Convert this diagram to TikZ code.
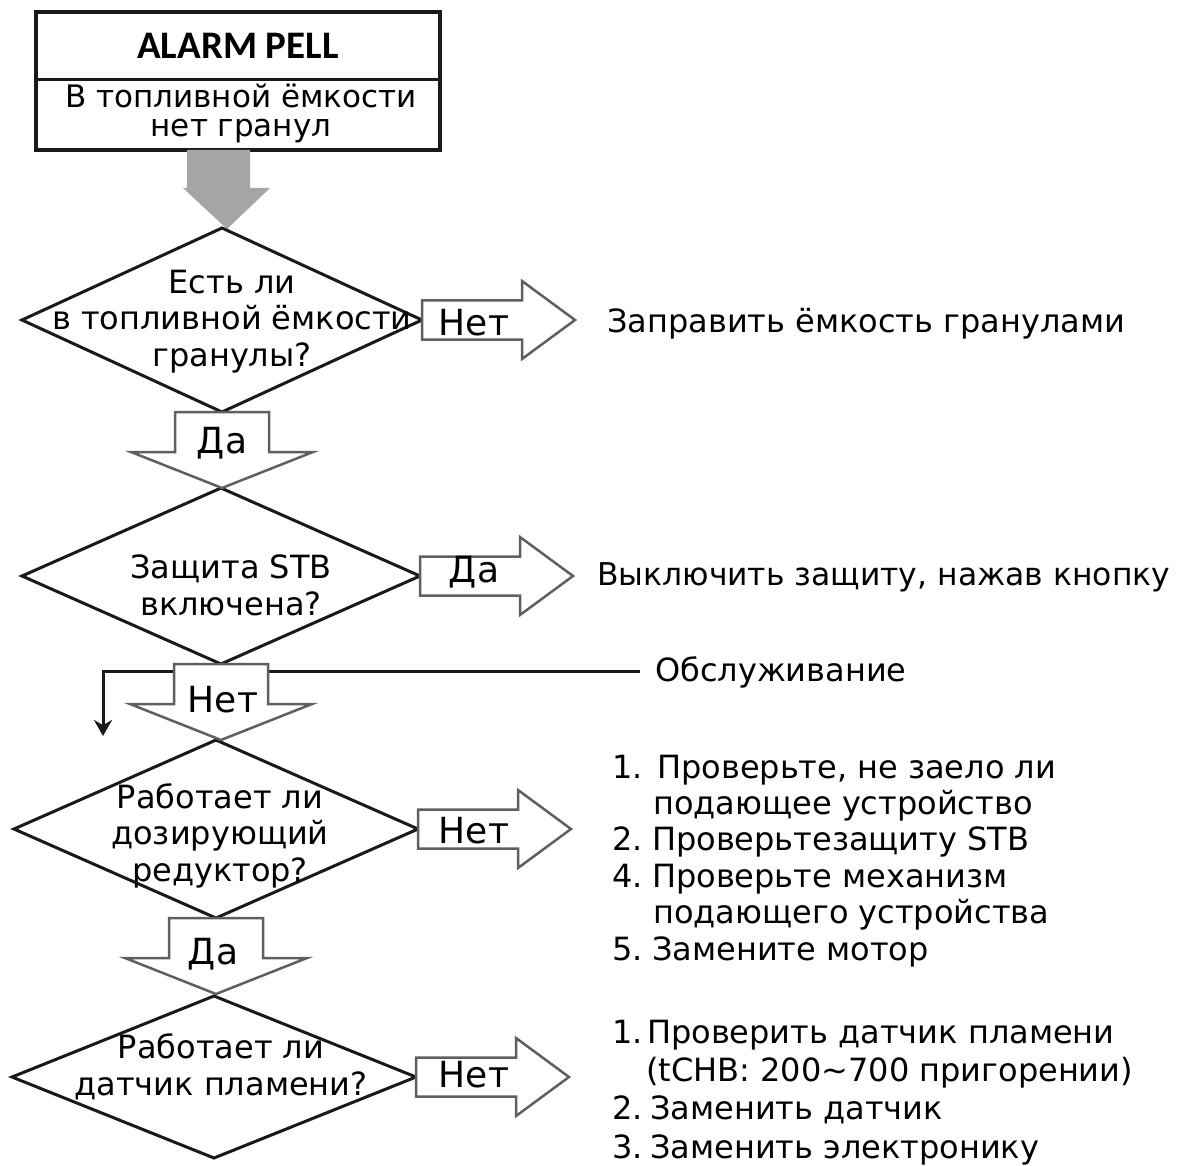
\documentclass[tikz,border=0pt]{standalone}
\usepackage{fontspec}                 % polices système
\setmainfont{DejaVu Sans}             % texte courant
\newfontfamily\titrefont{Carlito}     % pour le titre du cadre
\usepackage{tikz}
\usetikzlibrary{shapes.geometric,     % losanges
           calc,                      % calculs de coordonnées
           arrows.meta,               % pointes de flèches
           positioning}
\definecolor{gr}{RGB}{165,165,165}
\definecolor{bord}{RGB}{95,95,95}

\begin{document}
\begin{tikzpicture}[x=1pt,y=-1pt,
  texte/.style={font=\fontsize{32}{36.4}\selectfont,inner sep=0pt},
  mot/.style={font=\fontsize{36}{40}\selectfont,inner sep=0pt,anchor=base},
  losange/.style={diamond,draw=black!90,line width=3pt,inner sep=0pt,outer sep=0pt},
  fleche/.style={draw=bord,fill=white,line width=2.5pt,line join=miter}]
\useasboundingbox (0,0) rectangle (1178,1166);
\node[draw=black!90,line width=4pt,minimum width=404pt,minimum height=138pt,inner sep=0pt,outer sep=0pt](cadre)at(238,81){};
\coordinate (sep) at (0,80);
\draw[line width=3pt,black!90](cadre.west|-sep)--(cadre.east|-sep);
\node[inner sep=0pt,anchor=base,font=\titrefont\bfseries\fontsize{39}{44}\selectfont](titre)at(238,59){ALARM PELL};
\node[texte,align=center,anchor=base,font=\fontsize{31}{29}\selectfont](msg)at(241,137){В топливной ёмкости\\нет гранул};
\fill[gr](187,150)--(250,150)--(250,188)--(270,188)--(227,229)--(183,188)--(187,188)--cycle;
\node[losange,minimum width=400pt,minimum height=184pt](q1)at(222,320){};
\node[losange,minimum width=398pt,minimum height=176pt](q2)at(221,576){};
\node[losange,minimum width=404pt,minimum height=178pt](q3)at(216,829){};
\node[losange,minimum width=404pt,minimum height=162pt](q4)at(214,1077){};
\node[texte,align=center,anchor=base](t1)at(232,366){Есть ли\\в топливной ёмкости\\гранулы?};
\node[texte,align=center,anchor=base](t2)at(231,615){Защита STB\\включена?};
\node[texte,align=center,anchor=base](t3)at(220,881){Работает ли\\дозирующий\\редуктор?};
\node[texte,align=center,anchor=base](t4)at(221,1095){Работает ли\\датчик пламени?};
\node[texte,anchor=base west](obsl)at(655,681){Обслуживание};
\coordinate (fin) at (103,736);
\draw[line width=3pt,black!90,-{Stealth[length=16pt,width=18pt]}]([xshift=-15pt]obsl.west)-|(fin);
\foreach \q in {q1,q2,q3,q4}
  \draw[fleche](\q.east)++(0,-19.5)--++(100,0)--++(0,-19.5)--++(53,39)--++(-53,39)--++(0,-19.5)--++(-100,0)--cycle;
\foreach \q in {q1,q2,q3}
  \draw[fleche](\q.south)++(-47,0)--++(0,40)--++(-44,0)--++(91,36)--++(91,-36)--++(-44,0)--++(0,-40)--cycle;
\node[mot](non1)at(474,335){Нет};
\node[mot](oui2)at(474,582){Да};
\node[mot](non3)at(474,843){Нет};
\node[mot](non4)at(474,1087){Нет};
\node[mot](oui1)at(222,453){Да};
\node[mot](non2)at(223,712){Нет};
\node[mot](oui3)at(213,964){Да};
\node[texte,anchor=base west](r1)at(607,332){Заправить ёмкость гранулами};
\node[texte,anchor=base west,font=\fontsize{31.4}{36}\selectfont](r2)at(597,585){Выключить защиту, нажав кнопку};
\node[texte,align=left,anchor=base west](liste1)at(612,960){\makebox[45pt][l]{1.}Проверьте, не заело ли\\
  \hspace*{41pt}подающее устройство\\\makebox[40pt][l]{2.}Проверьтезащиту STB\\
  \makebox[40pt][l]{4.}Проверьте механизм\\\hspace*{41pt}подающего устройства\\
  \makebox[40pt][l]{5.}Замените мотор};
\node[texte,align=left,anchor=base west,font=\fontsize{32}{38.3}\selectfont](liste2)at(612,1158){\makebox[35pt][l]{1.}Проверить датчик пламени\\
  \hspace*{34pt}(tCHB: 200\textasciitilde700 пригорении)\\\makebox[38pt][l]{2.}Заменить датчик\\
  \makebox[38pt][l]{3.}Заменить электронику};
\end{tikzpicture}
\end{document}
